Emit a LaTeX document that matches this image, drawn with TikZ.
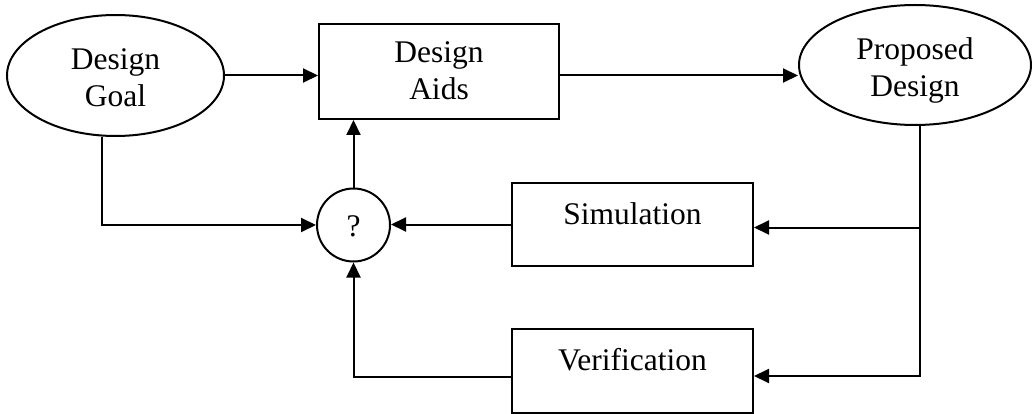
\documentclass[tikz,border=0pt]{standalone}
\usepackage{fontspec}
\setmainfont{Liberation Serif}
\usetikzlibrary{arrows.meta,shapes.geometric}
\begin{document}
\begin{tikzpicture}[x=1pt,y=-1pt,
  every node/.style={draw, line width=2pt, inner sep=0pt,
    font=\fontsize{31.5}{37}\selectfont},
  oval/.style={ellipse},
  box/.style={rectangle},
  junction/.style={circle, minimum size=73pt, text height=22pt, text depth=0pt},
  arr/.style={line width=2pt, -{Triangle[length=15pt,width=14pt]}}]

\useasboundingbox (0,0) rectangle (1032,414);

% main row
\node[oval, minimum width=217pt, minimum height=121pt, text height=63pt, text depth=0pt]
  (goal) at (115.5,75.5) {\begin{tabular}[b]{@{}c@{}}Design\\Goal\end{tabular}};
\node[box, minimum width=240pt, minimum height=95pt, text height=57pt, text depth=0pt]
  (aids) at (439,71.5) {\begin{tabular}[b]{@{}c@{}}Design\\Aids\end{tabular}};
\node[oval, minimum width=232pt, minimum height=120pt, text height=64pt, text depth=0pt]
  (prop) at (915,65) {\begin{tabular}[b]{@{}c@{}}Proposed\\Design\end{tabular}};

% feedback row
\node[junction] (q) at (353.5,225) {?};
\node[box, minimum width=241pt, minimum height=83pt, text height=21.5pt, text depth=22.5pt]
  (sim) at (632.5,224.5) {Simulation};
\node[box, minimum width=241pt, minimum height=84pt, text height=21.5pt, text depth=23.5pt]
  (ver) at (632.5,371) {Verification};

% forward path
\draw[arr] (goal.east) -- (goal.east -| aids.west);
\draw[arr] (aids.east |- goal.east) -- (prop.west |- goal.east);
\draw[arr] (q.north) -- (q.north |- aids.south);

% inputs to the comparison
\draw[arr] ([xshift=-13.5pt]goal.south) |- (q.west);
\draw[arr] (sim.west) -- (sim.west -| q.east);
\draw[arr] ([yshift=-6pt]ver.west) -| (q.south);

% feedback from the proposed design
\coordinate (bus) at ([xshift=5pt]prop.south);
\coordinate (sj) at ([yshift=-3pt]sim.east);
\coordinate (vj) at ([yshift=-5pt]ver.east);
\draw[arr] (bus) |- (vj);
\draw[arr] (sj -| bus) -- (sj);
\end{tikzpicture}
\end{document}
